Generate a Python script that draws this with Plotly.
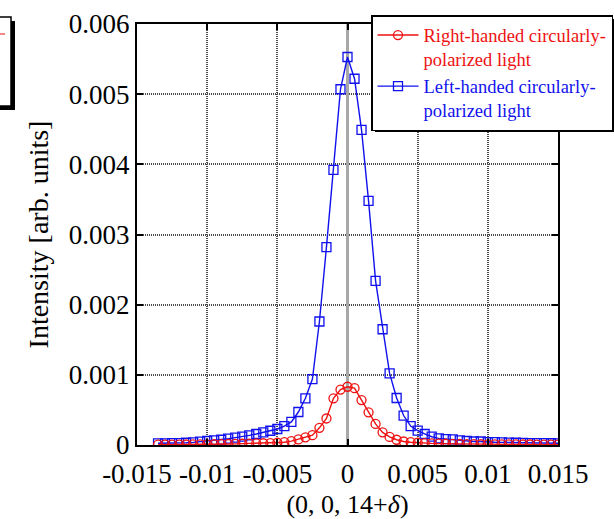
import plotly.graph_objects as go

# ---------------- data ----------------
delta = [-0.0135, -0.013, -0.0125, -0.012, -0.0115, -0.011, -0.0105, -0.01, -0.0095, -0.009,
         -0.0085, -0.008, -0.0075, -0.007, -0.0065, -0.006, -0.0055, -0.005, -0.0045, -0.004,
         -0.0035, -0.003, -0.0025, -0.002, -0.0015, -0.001, -0.0005, 0.0, 0.0005, 0.001,
         0.0015, 0.002, 0.0025, 0.003, 0.0035, 0.004, 0.0045, 0.005, 0.0055, 0.006,
         0.0065, 0.007, 0.0075, 0.008, 0.0085, 0.009, 0.0095, 0.01, 0.0105, 0.011,
         0.0115, 0.012, 0.0125, 0.013, 0.0135, 0.014, 0.0145, 0.015]

left_handed = [0.024, 0.024, 0.026, 0.028, 0.032, 0.038, 0.047, 0.057, 0.066, 0.075,
               0.090, 0.105, 0.118, 0.138, 0.157, 0.180, 0.203, 0.228, 0.270, 0.330,
               0.470, 0.665, 0.940, 1.760, 2.820, 3.920, 5.070, 5.530, 5.220, 4.490,
               3.480, 2.340, 1.650, 1.020, 0.670, 0.420, 0.270, 0.204, 0.157, 0.118,
               0.095, 0.085, 0.080, 0.067, 0.057, 0.050, 0.050, 0.042, 0.040, 0.038,
               0.035, 0.032, 0.030, 0.028, 0.027, 0.026, 0.025, 0.024]
left_handed = [v * 1e-3 for v in left_handed]

right_handed = [0.005, 0.005, 0.006, 0.006, 0.007, 0.008, 0.009, 0.010, 0.011, 0.012,
                0.014, 0.016, 0.018, 0.020, 0.022, 0.025, 0.028, 0.032, 0.040, 0.055,
                0.080, 0.110, 0.140, 0.245, 0.378, 0.665, 0.790, 0.830, 0.810, 0.640,
                0.465, 0.300, 0.180, 0.115, 0.075, 0.050, 0.040, 0.032, 0.027, 0.023,
                0.020, 0.018, 0.016, 0.014, 0.013, 0.012, 0.011, 0.010, 0.009, 0.009,
                0.008, 0.008, 0.007, 0.007, 0.006, 0.006, 0.006, 0.005]
right_handed = [v * 1e-3 for v in right_handed]

x_tickvals = [-0.015, -0.01, -0.005, 0, 0.005, 0.01, 0.015]
x_ticktext = ["-0.015", "-0.01", "-0.005", "0", "0.005", "0.01", "0.015"]
y_tickvals = [0, 0.001, 0.002, 0.003, 0.004, 0.005, 0.006]
y_ticktext = ["0", "0.001", "0.002", "0.003", "0.004", "0.005", "0.006"]

FONT = "Times New Roman, Liberation Serif, serif"
RED = "#ee1111"
BLUE = "#1111ee"

# ---------------- layout geometry ----------------
W, H = 614, 519
L, R, T, B = 137, 558, 24, 445
PW, PH = R - L, B - T


def px(xp):
    return (xp - L) / PW


def py(yp):
    return (B - yp) / PH


fig = go.Figure()

fig.add_trace(go.Scatter(
    x=delta, y=left_handed, mode="lines+markers",
    name=f"<span style='color:{BLUE}'>Left-handed circularly-<br>polarized light</span>",
    line=dict(color=BLUE, width=1.4),
    marker=dict(symbol="square-open", size=9, color=BLUE, line=dict(width=1.3)),
    legendrank=2, legendgroup="b",
))
fig.add_trace(go.Scatter(
    x=delta, y=right_handed, mode="lines+markers",
    name=f"<span style='color:{RED}'>Right-handed circularly-<br>polarized light</span>",
    line=dict(color=RED, width=1.4),
    marker=dict(symbol="circle-open", size=9, color=RED, line=dict(width=1.3)),
    legendrank=1, legendgroup="a",
))

grid = dict(showgrid=True, gridcolor="#4a4a4a", gridwidth=2, griddash="1px,1px")

fig.update_xaxes(
    range=[-0.015, 0.015], tickvals=x_tickvals, ticktext=x_ticktext,
    showline=True, linecolor="black", linewidth=2, mirror="ticks",
    ticks="inside", ticklen=6, tickwidth=1.5, tickcolor="black",
    zeroline=True, zerolinecolor="#a8a8a8", zerolinewidth=3,
    tickfont=dict(family=FONT, size=27, color="black"),
    ticklabelstandoff=4,
    title=dict(text="(0, 0, 14+<i>δ</i>)", font=dict(family=FONT, size=26, color="black"), standoff=10),
    **grid,
)
fig.update_yaxes(
    range=[0, 0.006], tickvals=y_tickvals, ticktext=y_ticktext,
    showline=True, linecolor="black", linewidth=2, mirror="ticks",
    ticks="inside", ticklen=6, tickwidth=1.5, tickcolor="black",
    zeroline=False,
    tickfont=dict(family=FONT, size=27, color="black"),
    title=dict(text="Intensity [arb. units]", font=dict(family=FONT, size=28, color="black"), standoff=12),
    **grid,
)

shapes = [
    # shadow of the legend box
    dict(type="rect", xref="paper", yref="paper",
         x0=px(375), x1=px(618), y0=py(19), y1=py(132),
         fillcolor="black", line=dict(width=0), layer="above"),
    # partial box at top-left (cropped element of the source figure)
    dict(type="rect", xref="paper", yref="paper",
         x0=px(-20), x1=px(15), y0=py(21), y1=py(110),
         fillcolor="black", line=dict(width=0), layer="above"),
    dict(type="rect", xref="paper", yref="paper",
         x0=px(-20), x1=px(11), y0=py(17), y1=py(106),
         fillcolor="white", line=dict(color="black", width=1.5), layer="above"),
    dict(type="line", xref="paper", yref="paper",
         x0=px(0), x1=px(5), y0=py(34), y1=py(34),
         line=dict(color=RED, width=1), layer="above"),
]

fig.update_layout(
    width=W, height=H,
    margin=dict(l=L, r=W - R, t=T, b=H - B, autoexpand=False),
    paper_bgcolor="white", plot_bgcolor="white",
    font=dict(family=FONT, color="black"),
    showlegend=True,
    legend=dict(
        x=px(371), y=py(15), xanchor="left", yanchor="top",
        bgcolor="white", bordercolor="black", borderwidth=1.5,
        font=dict(family=FONT, size=18.5),
        itemwidth=41, valign="top",
        tracegroupgap=0, traceorder="normal",
    ),
    shapes=shapes,
)

fig.write_html("out.html")
